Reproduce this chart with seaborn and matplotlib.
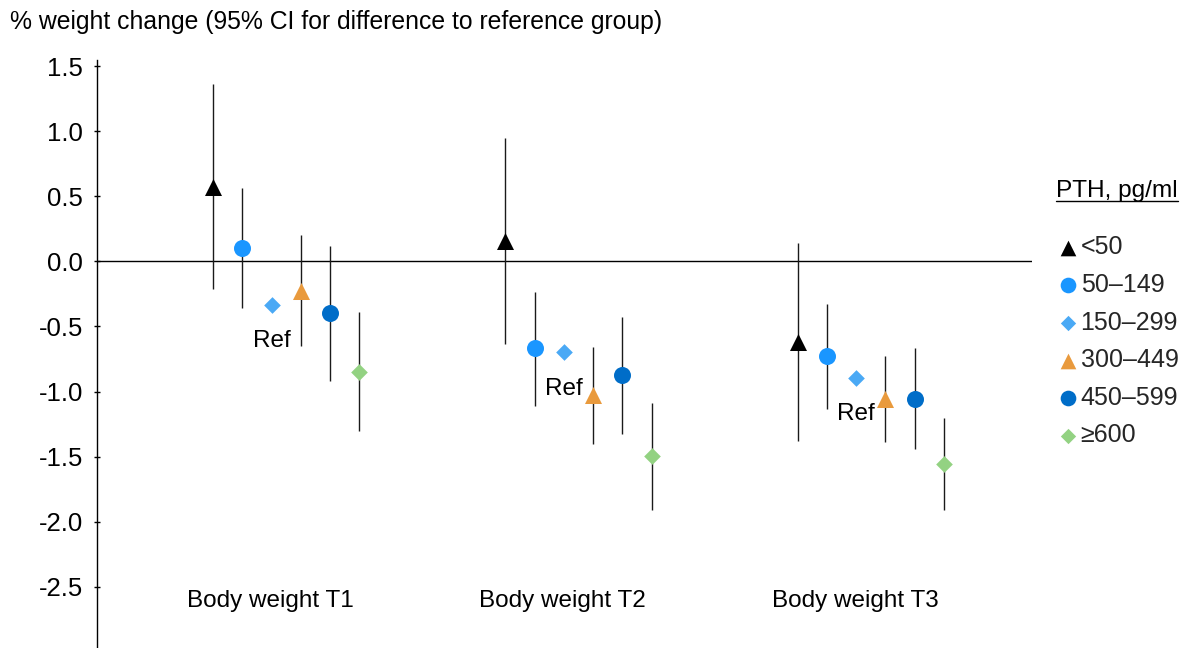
import numpy as np
import pandas as pd
import matplotlib
matplotlib.use("Agg")
import matplotlib.pyplot as plt
from matplotlib.lines import Line2D
import seaborn as sns

# Outcomes (x categories) and PTH strata
outcomes = ["Body weight T1", "Body weight T2", "Body weight T3"]
pth_groups = ["<50", "50–149", "150–299", "300–449", "450–599", "≥600"]
reference_group = "150–299"

# Estimated % weight change per PTH stratum (order of pth_groups)
t1_est = [0.57, 0.10, -0.335, -0.23, -0.40, -0.85]
t1_low = [-0.21, -0.36, np.nan, -0.65, -0.92, -1.30]
t1_high = [1.36, 0.56, np.nan, 0.20, 0.115, -0.39]

t2_est = [0.154, -0.668, -0.70, -1.03, -0.873, -1.495]
t2_low = [-0.635, -1.109, np.nan, -1.40, -1.327, -1.91]
t2_high = [0.945, -0.233, np.nan, -0.658, -0.43, -1.086]

t3_est = [-0.62, -0.727, -0.894, -1.058, -1.058, -1.56]
t3_low = [-1.378, -1.134, np.nan, -1.385, -1.444, -1.91]
t3_high = [0.138, -0.328, np.nan, -0.727, -0.668, -1.206]

ytick_values = [1.5, 1.0, 0.5, 0.0, -0.5, -1.0, -1.5, -2.0, -2.5]
ytick_labels = ["1.5", "1.0", "0.5", "0.0", "-0.5", "-1.0", "-1.5", "-2.0", "-2.5"]

# Styling per stratum
colors = {"<50": "#000000", "50–149": "#1a96ff", "150–299": "#4aa9f5",
          "300–449": "#e99a3d", "450–599": "#006dc8", "≥600": "#93d282"}
markers = {"<50": "^", "50–149": "o", "150–299": "D",
           "300–449": "^", "450–599": "o", "≥600": "D"}
sizes = {"<50": 150, "50–149": 150, "150–299": 72,
         "300–449": 150, "450–599": 150, "≥600": 72}

rows = []
for oi, (name, est, low, high) in enumerate(zip(
        outcomes, [t1_est, t2_est, t3_est], [t1_low, t2_low, t3_low],
        [t1_high, t2_high, t3_high])):
    for gi, g in enumerate(pth_groups):
        rows.append({"outcome": name, "group": g, "est": est[gi],
                     "low": low[gi], "high": high[gi],
                     "xpos": oi + (gi - 2.5) * 0.1})
df = pd.DataFrame(rows)

sns.set_theme(style="white")
plt.rcParams["font.family"] = ["Liberation Sans", "DejaVu Sans"]
FS = 17.5

W, H = 1187, 648
fig = plt.figure(figsize=(W / 100, H / 100), dpi=100)
ax = fig.add_axes([96.5 / W, 0, 935.2 / W, 588.5 / H])

ax.axhline(0, color="black", lw=1.0, zorder=1)
ci = df.dropna(subset=["low", "high"])
ax.vlines(ci["xpos"], ci["low"], ci["high"], color="#1a1a1a", lw=1.0, zorder=2)

for g in pth_groups:
    sub = df[df["group"] == g]
    sns.scatterplot(data=sub, x="xpos", y="est", marker=markers[g], s=sizes[g],
                    color=colors[g], linewidth=0, ax=ax, label=g, zorder=3,
                    legend=False)

# "Ref" label under the reference stratum
ref = df[df["group"] == reference_group]
for _, r in ref.iterrows():
    ax.annotate("Ref", (r["xpos"], r["est"]), xytext=(0, -30.3),
                textcoords="offset points", ha="center", va="baseline",
                fontsize=FS, color="black")

# Outcome labels
for oi, name in enumerate(outcomes):
    ax.text(oi - 0.054, -2.653, name, ha="center", va="baseline",
            fontsize=FS, color="black")

ax.set_xlim(-0.6496, 2.551)
ax.set_ylim(-2.97, 1.55)
ax.set_xticks([])
ax.set_yticks(ytick_values, ytick_labels)
ax.tick_params(axis="y", direction="inout", length=5, width=1, pad=7,
               labelsize=18.5, colors="black", left=True)
ax.set_xlabel("")
ax.set_ylabel("")
for side in ["top", "right", "bottom"]:
    ax.spines[side].set_visible(False)
ax.spines["left"].set_color("black")
ax.spines["left"].set_linewidth(1.0)
ax.set_facecolor("none")

# Axis title
fig.text(10 / W, 1 - 29 / H, "% weight change (95% CI for difference to reference group)",
         ha="left", va="baseline", fontsize=17.8, color="black")

# Legend
LFS = 18
handles, labels = ax.get_legend_handles_labels()
ax.legend(handles, labels, loc="upper left",
          bbox_to_anchor=(1058.8 / W, 1 - 235.3 / H), bbox_transform=fig.transFigure,
          frameon=False, borderpad=0, borderaxespad=0, handlelength=0.7,
          handletextpad=0.17, labelspacing=0.545, markerscale=0.92,
          fontsize=LFS, scatterpoints=1)

title = fig.text(1056 / W, 1 - 197 / H, "PTH, pg/ml", ha="left", va="baseline",
                 fontsize=17.6, color="black")
fig.canvas.draw()
bb = title.get_window_extent().transformed(fig.transFigure.inverted())
fig.add_artist(Line2D([bb.x0, bb.x1], [1 - 200.5 / H] * 2, color="black",
                      lw=1.0, transform=fig.transFigure))

fig.savefig("out.png", dpi=100)
